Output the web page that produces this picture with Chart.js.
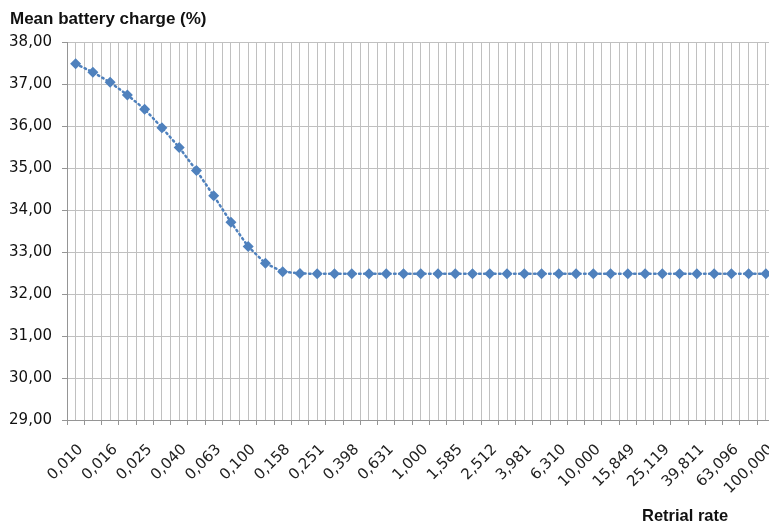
<!DOCTYPE html>
<html>
<head>
<meta charset="utf-8">
<script src="https://cdn.jsdelivr.net/npm/chart.js@4"></script>
<style>
  html, body { margin: 0; padding: 0; background: #fff; overflow: hidden; }
  #wrap { width: 780px; height: 528px; }
</style>
</head>
<body>
<div id="wrap"><canvas id="myChart" width="780" height="528"></canvas></div>
<script>
// retrial rate categories (log spaced)
const rates = [
    '0,010', '0,013', '0,016', '0,020', '0,025', '0,032', '0,040', '0,050', '0,063', '0,079',
    '0,100', '0,126', '0,158', '0,200', '0,251', '0,316', '0,398', '0,501', '0,631', '0,794',
    '1,000', '1,259', '1,585', '1,995', '2,512', '3,162', '3,981', '5,012', '6,310', '7,943',
    '10,000', '12,589', '15,849', '19,953', '25,119', '31,623', '39,811', '50,119', '63,096', '79,433',
    '100,000'
];

// mean battery charge (%)
const charge = [
    37.48, 37.28, 37.04, 36.74, 36.40, 35.96, 35.49, 34.94, 34.34, 33.71,
    33.13, 32.73, 32.53, 32.49, 32.48, 32.48, 32.48, 32.48, 32.48, 32.48,
    32.48, 32.48, 32.48, 32.48, 32.48, 32.48, 32.48, 32.48, 32.48, 32.48,
    32.48, 32.48, 32.48, 32.48, 32.48, 32.48, 32.48, 32.48, 32.48, 32.48,
    32.48
];

const yMin = 29;
const yMax = 38;
const yStep = 1;

const titleText = 'Mean battery charge (%)';
const xTitleText = 'Retrial rate';

const BLUE = '#4F81BD';
const GRID = '#c0c0c0';
const AXIS = '#959595';

// textos fixos (titulo e titulo do eixo x) como no Excel
const textPlugin = {
    id: 'excelTexts',
    afterDraw(chart) {
        const ctx = chart.ctx;
        ctx.save();
        ctx.fillStyle = '#111';
        ctx.font = 'bold 17px "Liberation Sans"';
        ctx.textAlign = 'left';
        ctx.textBaseline = 'alphabetic';
        ctx.fillText(titleText, 10, 23.5);
        ctx.font = 'bold 16.5px "Liberation Sans"';
        ctx.fillText(xTitleText, 642, 521);
        ctx.restore();
    }
};

const canvas = document.getElementById('myChart');
new Chart(canvas.getContext('2d'), {
    type: 'line',
    data: {
        labels: rates,
        datasets: [{
            data: charge,
            xAxisID: 'x',
            yAxisID: 'y',
            borderColor: BLUE,
            backgroundColor: BLUE,
            borderWidth: 2.5,
            borderDash: [1.5, 3.5],
            borderCapStyle: 'round',
            fill: false,
            tension: 0,
            pointStyle: 'rectRot',
            pointRadius: 5.5,
            pointBorderWidth: 0,
            pointBackgroundColor: BLUE
        }]
    },
    options: {
        responsive: false,
        animation: false,
        layout: { padding: { left: 0, right: 5, top: 42, bottom: 0 } },
        plugins: {
            legend: { display: false },
            title: { display: false },
            tooltip: { enabled: false }
        },
        scales: {
            x: {
                type: 'category',
                position: 'bottom',
                offset: true,
                grid: { display: true, offset: true, color: GRID, lineWidth: 1, drawTicks: true, tickLength: 5, tickColor: AXIS },
                border: { display: true, color: AXIS },
                ticks: {
                    autoSkip: false,
                    minRotation: 45,
                    maxRotation: 45,
                    padding: 16,
                    labelOffset: 5,
                    color: '#222',
                    font: { family: 'DejaVu Sans', size: 15 },
                    callback: function(value, index) {
                        return index % 2 === 0 ? this.getLabelForValue(value) : '';
                    }
                },
                afterFit(scale) {
                    scale.height = 108;
                    scale.paddingLeft = 0;
                    scale.paddingRight = 0;
                }
            },
            x2: {
                type: 'category',
                position: 'top',
                offset: true,
                grid: { display: true, offset: false, color: GRID, lineWidth: 1, drawTicks: false },
                border: { display: false },
                ticks: { display: false },
                afterFit(scale) { scale.height = 0; }
            },
            y: {
                min: yMin,
                max: yMax,
                grid: { color: GRID, lineWidth: 1, drawTicks: true, tickLength: 5, tickColor: AXIS },
                border: { display: true, color: AXIS },
                ticks: {
                    stepSize: yStep,
                    padding: 10,
                    color: '#111',
                    font: { family: 'DejaVu Sans', size: 15 },
                    callback: v => Number(v).toFixed(2).replace('.', ',')
                },
                afterFit(scale) { scale.width = 67; }
            }
        }
    },
    plugins: [textPlugin]
});
</script>
</body>
</html>
